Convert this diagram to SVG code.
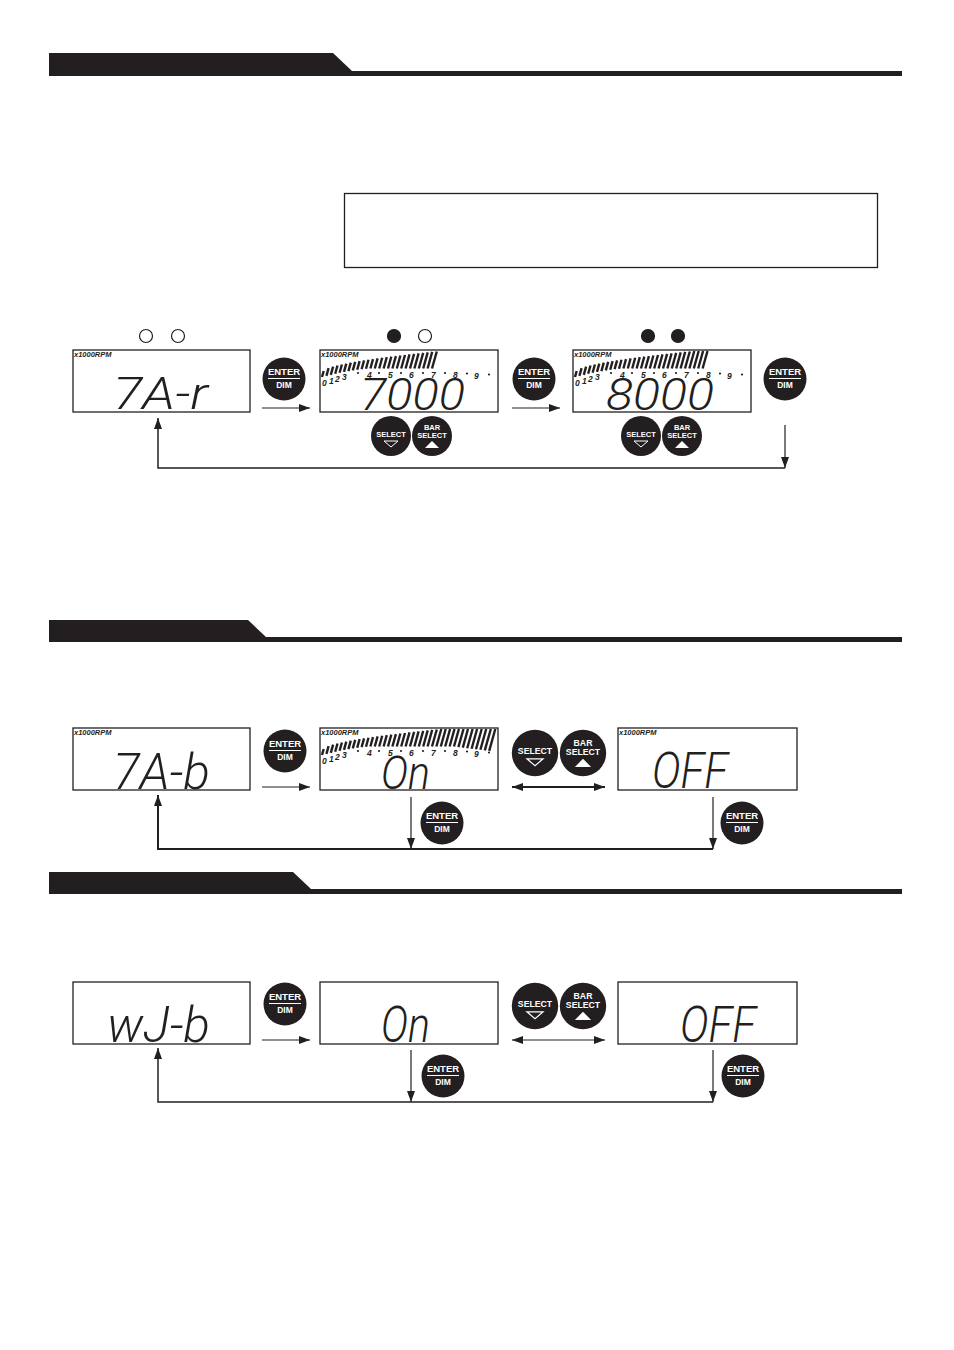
<svg xmlns="http://www.w3.org/2000/svg" xmlns:xlink="http://www.w3.org/1999/xlink" width="954" height="1350" viewBox="0 0 954 1350">
<style>
.hdr{fill:#231f20}
.lcd{fill:#fff;stroke:#231f20;stroke-width:1.3}
.rpm{font-family:"Liberation Sans",Arial,sans-serif;font-size:7.5px;font-weight:bold;font-style:italic;fill:#231f20}
.seg{font-family:Roboto,"Open Sans","DejaVu Sans",sans-serif;font-weight:300;font-style:italic;fill:#231f20}
.num{font-family:"Liberation Sans",Arial,sans-serif;font-size:8.5px;font-style:italic;font-weight:bold;fill:#231f20}
.btn{fill:#231f20}
.bt{font-family:"Liberation Sans",Arial,sans-serif;font-weight:bold;fill:#fff;text-anchor:middle}
.bar{stroke:#231f20;stroke-width:2.4;stroke-linecap:butt}
.ln{fill:none;stroke:#231f20}
.led{stroke:#231f20;stroke-width:1.2}
</style>
<defs>
<marker id="ah" markerUnits="userSpaceOnUse" markerWidth="12" markerHeight="9" refX="11" refY="4" orient="auto-start-reverse">
<path d="M0,0 L11,4 L0,8 z" fill="#231f20"/>
</marker>
<g id="barsA" class="bar">
<line x1="2" y1="27" x2="3.7" y2="21"/>
<line x1="6.4" y1="25.9" x2="8.6" y2="18.2"/>
<line x1="10.8" y1="24.8" x2="13.1" y2="16.7"/>
<line x1="15.2" y1="23.8" x2="17.5" y2="15.5"/>
<line x1="19.6" y1="22.8" x2="21.9" y2="14.5"/>
<line x1="24" y1="21.9" x2="26.3" y2="13.6"/>
<line x1="28.4" y1="21.1" x2="30.8" y2="12.7"/>
<line x1="32.8" y1="20.4" x2="35.2" y2="11.9"/>
<line x1="37.2" y1="19.7" x2="39.6" y2="11.1"/>
<line x1="41.6" y1="19.2" x2="44.1" y2="10.4"/>
<line x1="46" y1="18.7" x2="48.5" y2="9.7"/>
<line x1="50.4" y1="18.5" x2="53" y2="9.1"/>
<line x1="54.8" y1="18.5" x2="57.6" y2="8.4"/>
<line x1="59.2" y1="18.5" x2="62.2" y2="7.8"/>
<line x1="63.6" y1="18.5" x2="66.8" y2="7.2"/>
<line x1="68" y1="18.5" x2="71.3" y2="6.6"/>
<line x1="72.4" y1="18.5" x2="75.9" y2="6.1"/>
<line x1="76.8" y1="18.5" x2="80.4" y2="5.5"/>
<line x1="81.2" y1="18.5" x2="85" y2="5"/>
<line x1="85.6" y1="18.5" x2="89.5" y2="4.4"/>
<line x1="90" y1="18.5" x2="94.1" y2="3.9"/>
<line x1="94.4" y1="18.5" x2="98.6" y2="3.4"/>
<line x1="98.8" y1="18.5" x2="103.2" y2="2.9"/>
<line x1="103.2" y1="18.5" x2="107.7" y2="2.4"/>
<line x1="107.6" y1="18.5" x2="112.2" y2="1.9"/>
<line x1="112" y1="18.5" x2="116.8" y2="1.5"/>
</g>
<g id="barsB" class="bar">
<line x1="116.4" y1="18.5" x2="121.3" y2="1"/>
<line x1="120.8" y1="18.5" x2="125.7" y2="1"/>
<line x1="125.2" y1="18.5" x2="130.1" y2="1"/>
<line x1="129.6" y1="18.5" x2="134.5" y2="1"/>
</g>
<g id="barsC" class="bar">
<line x1="134" y1="18.5" x2="138.9" y2="1"/>
<line x1="138.4" y1="19.1" x2="143.5" y2="1"/>
<line x1="142.8" y1="19.6" x2="148" y2="1"/>
<line x1="147.2" y1="20.2" x2="152.6" y2="1"/>
<line x1="151.6" y1="20.7" x2="157.1" y2="1"/>
<line x1="156" y1="21.3" x2="161.7" y2="1"/>
<line x1="160.4" y1="21.8" x2="166.2" y2="1"/>
<line x1="164.8" y1="22.4" x2="170.8" y2="1"/>
<line x1="169.2" y1="22.9" x2="175.3" y2="1"/>
</g>
<g id="dots" fill="#231f20">
<circle cx="38" cy="23" r="1.1"/><circle cx="59" cy="23" r="1.1"/><circle cx="81" cy="23" r="1.1"/><circle cx="103" cy="23" r="1.1"/><circle cx="125" cy="23" r="1.1"/><circle cx="147" cy="23.5" r="1.1"/><circle cx="169" cy="24.5" r="1.1"/>
</g>
</defs>

<!-- Section headers -->
<g id="header1"><path class="hdr" d="M49,53 H333 L352,71 H902 V76 H49 Z"/></g>
<g id="header2"><path class="hdr" d="M49,620 H248 L266,637 H902 V642 H49 Z"/></g>
<g id="header3"><path class="hdr" d="M49,872 H293 L311,889 H902 V894 H49 Z"/></g>

<g id="notebox"><rect x="344.5" y="193.5" width="533" height="74" fill="none" stroke="#231f20" stroke-width="1.3"/></g>

<!-- Row 1 indicator lights -->
<g id="leds1"><circle class="led" cx="146" cy="336" r="6.5" fill="#fff"/><circle class="led" cx="178" cy="336" r="6.5" fill="#fff"/></g>
<g id="leds2"><circle class="led" cx="394" cy="336" r="6.5" fill="#231f20"/><circle class="led" cx="425" cy="336" r="6.5" fill="#fff"/></g>
<g id="leds3"><circle class="led" cx="648" cy="336" r="6.5" fill="#231f20"/><circle class="led" cx="678" cy="336" r="6.5" fill="#231f20"/></g>

<!-- Row 1 LCDs -->
<g id="lcd1a">
<rect class="lcd" x="73" y="350" width="177" height="62"/>
<text class="rpm" x="74" y="357">x1000RPM</text>
<text class="seg" x="113" y="409" font-size="44" textLength="95" lengthAdjust="spacingAndGlyphs">7A-r</text>
</g>
<g id="lcd1b">
<rect class="lcd" x="320" y="350" width="178" height="62"/>
<g transform="translate(320,350)">
<use xlink:href="#barsA"/>
<use xlink:href="#dots"/>
<text class="num" x="2" y="36">0</text><text class="num" x="9" y="34">1</text><text class="num" x="15" y="32">2</text><text class="num" x="22" y="30">3</text>
<text class="num" x="47" y="28">4</text><text class="num" x="68" y="28">5</text><text class="num" x="89" y="28">6</text><text class="num" x="111" y="28">7</text><text class="num" x="133" y="28">8</text><text class="num" x="154" y="28.5">9</text>
</g>
<text class="rpm" x="321" y="357">x1000RPM</text>
<text class="seg" x="360" y="410" font-size="44" textLength="105" lengthAdjust="spacingAndGlyphs">7000</text>
</g>
<g id="lcd1c">
<rect class="lcd" x="573" y="350" width="178" height="62"/>
<g transform="translate(573,350)">
<use xlink:href="#barsA"/><use xlink:href="#barsB"/>
<use xlink:href="#dots"/>
<text class="num" x="2" y="36">0</text><text class="num" x="9" y="34">1</text><text class="num" x="15" y="32">2</text><text class="num" x="22" y="30">3</text>
<text class="num" x="47" y="28">4</text><text class="num" x="68" y="28">5</text><text class="num" x="89" y="28">6</text><text class="num" x="111" y="28">7</text><text class="num" x="133" y="28">8</text><text class="num" x="154" y="28.5">9</text>
</g>
<text class="rpm" x="574" y="357">x1000RPM</text>
<text class="seg" x="606" y="410" font-size="44" textLength="108" lengthAdjust="spacingAndGlyphs">8000</text>
</g>

<!-- Row 1 buttons -->
<g id="enter1a"><circle class="btn" cx="284" cy="379" r="21.5"/><text class="bt" x="284" y="375" font-size="9.5">ENTER</text><line x1="268" y1="378.5" x2="300" y2="378.5" stroke="#fff" stroke-width="1"/><text class="bt" x="284" y="388" font-size="8.5">DIM</text></g>
<g id="enter1b"><circle class="btn" cx="534" cy="379" r="21.5"/><text class="bt" x="534" y="375" font-size="9.5">ENTER</text><line x1="518" y1="378.5" x2="550" y2="378.5" stroke="#fff" stroke-width="1"/><text class="bt" x="534" y="388" font-size="8.5">DIM</text></g>
<g id="enter1c"><circle class="btn" cx="785" cy="379" r="21.5"/><text class="bt" x="785" y="375" font-size="9.5">ENTER</text><line x1="769" y1="378.5" x2="801" y2="378.5" stroke="#fff" stroke-width="1"/><text class="bt" x="785" y="388" font-size="8.5">DIM</text></g>
<g id="select1b" transform="translate(391,436)"><circle class="btn" r="20"/><text class="bt" y="1" font-size="7.5">SELECT</text><path d="M-7,5 H7 L0,11 Z" fill="none" stroke="#fff" stroke-width="1"/></g>
<g id="barselect1b" transform="translate(432,436)"><circle class="btn" r="20"/><text class="bt" y="-6" font-size="7.5">BAR</text><text class="bt" y="2" font-size="7.5">SELECT</text><path d="M-7,12 H7 L0,5 Z" fill="#fff"/></g>
<g id="select1c" transform="translate(641,436)"><circle class="btn" r="20"/><text class="bt" y="1" font-size="7.5">SELECT</text><path d="M-7,5 H7 L0,11 Z" fill="none" stroke="#fff" stroke-width="1"/></g>
<g id="barselect1c" transform="translate(682,436)"><circle class="btn" r="20"/><text class="bt" y="-6" font-size="7.5">BAR</text><text class="bt" y="2" font-size="7.5">SELECT</text><path d="M-7,12 H7 L0,5 Z" fill="#fff"/></g>

<!-- Section 2 -->
<g id="lcd2a">
<rect class="lcd" x="73" y="728" width="177" height="62"/>
<text class="rpm" x="74" y="735">x1000RPM</text>
<text class="seg" x="113" y="789" font-size="49" textLength="97" lengthAdjust="spacingAndGlyphs">7A-b</text>
</g>
<g id="lcd2b">
<rect class="lcd" x="320" y="728" width="178" height="62"/>
<g transform="translate(320,728)">
<use xlink:href="#barsA"/><use xlink:href="#barsB"/><use xlink:href="#barsC"/>
<use xlink:href="#dots"/>
<text class="num" x="2" y="36">0</text><text class="num" x="9" y="34">1</text><text class="num" x="15" y="32">2</text><text class="num" x="22" y="30">3</text>
<text class="num" x="47" y="28">4</text><text class="num" x="68" y="28">5</text><text class="num" x="89" y="28">6</text><text class="num" x="111" y="28">7</text><text class="num" x="133" y="28">8</text><text class="num" x="154" y="28.5">9</text>
</g>
<text class="rpm" x="321" y="735">x1000RPM</text>
<text class="seg" x="381" y="789" font-size="46" textLength="49" lengthAdjust="spacingAndGlyphs">On</text>
</g>
<g id="lcd2c">
<rect class="lcd" x="618" y="728" width="179" height="62"/>
<text class="rpm" x="619" y="735">x1000RPM</text>
<text class="seg" x="652" y="788" font-size="49" textLength="76" lengthAdjust="spacingAndGlyphs">OFF</text>
</g>
<g id="enter2a"><circle class="btn" cx="285" cy="751" r="21.5"/><text class="bt" x="285" y="747" font-size="9.5">ENTER</text><line x1="269" y1="750.5" x2="301" y2="750.5" stroke="#fff" stroke-width="1"/><text class="bt" x="285" y="760" font-size="8.5">DIM</text></g>
<g id="select2" transform="translate(535,753) scale(1.16)"><circle class="btn" r="20"/><text class="bt" y="1" font-size="7.5">SELECT</text><path d="M-7,5 H7 L0,11 Z" fill="none" stroke="#fff" stroke-width="1"/></g>
<g id="barselect2" transform="translate(583,753) scale(1.16)"><circle class="btn" r="20"/><text class="bt" y="-6" font-size="7.5">BAR</text><text class="bt" y="2" font-size="7.5">SELECT</text><path d="M-7,12 H7 L0,5 Z" fill="#fff"/></g>
<g id="enter2b"><circle class="btn" cx="442" cy="823" r="21.5"/><text class="bt" x="442" y="819" font-size="9.5">ENTER</text><line x1="426" y1="822.5" x2="458" y2="822.5" stroke="#fff" stroke-width="1"/><text class="bt" x="442" y="832" font-size="8.5">DIM</text></g>
<g id="enter2c"><circle class="btn" cx="742" cy="823" r="21.5"/><text class="bt" x="742" y="819" font-size="9.5">ENTER</text><line x1="726" y1="822.5" x2="758" y2="822.5" stroke="#fff" stroke-width="1"/><text class="bt" x="742" y="832" font-size="8.5">DIM</text></g>

<!-- Section 3 -->
<g id="lcd3a">
<rect class="lcd" x="73" y="982" width="177" height="62"/>
<text class="seg" x="107" y="1042" font-size="49" textLength="103" lengthAdjust="spacingAndGlyphs">wJ-b</text>
</g>
<g id="lcd3b">
<rect class="lcd" x="320" y="982" width="178" height="62"/>
<text class="seg" x="381" y="1042" font-size="49" textLength="49" lengthAdjust="spacingAndGlyphs">On</text>
</g>
<g id="lcd3c">
<rect class="lcd" x="618" y="982" width="179" height="62"/>
<text class="seg" x="680" y="1042" font-size="49" textLength="76" lengthAdjust="spacingAndGlyphs">OFF</text>
</g>
<g id="enter3a"><circle class="btn" cx="285" cy="1004" r="21.5"/><text class="bt" x="285" y="1000" font-size="9.5">ENTER</text><line x1="269" y1="1003.5" x2="301" y2="1003.5" stroke="#fff" stroke-width="1"/><text class="bt" x="285" y="1013" font-size="8.5">DIM</text></g>
<g id="select3" transform="translate(535,1006) scale(1.16)"><circle class="btn" r="20"/><text class="bt" y="1" font-size="7.5">SELECT</text><path d="M-7,5 H7 L0,11 Z" fill="none" stroke="#fff" stroke-width="1"/></g>
<g id="barselect3" transform="translate(583,1006) scale(1.16)"><circle class="btn" r="20"/><text class="bt" y="-6" font-size="7.5">BAR</text><text class="bt" y="2" font-size="7.5">SELECT</text><path d="M-7,12 H7 L0,5 Z" fill="#fff"/></g>
<g id="enter3b"><circle class="btn" cx="443" cy="1076" r="21.5"/><text class="bt" x="443" y="1072" font-size="9.5">ENTER</text><line x1="427" y1="1075.5" x2="459" y2="1075.5" stroke="#fff" stroke-width="1"/><text class="bt" x="443" y="1085" font-size="8.5">DIM</text></g>
<g id="enter3c"><circle class="btn" cx="743" cy="1076" r="21.5"/><text class="bt" x="743" y="1072" font-size="9.5">ENTER</text><line x1="727" y1="1075.5" x2="759" y2="1075.5" stroke="#fff" stroke-width="1"/><text class="bt" x="743" y="1085" font-size="8.5">DIM</text></g>

<!-- Connectors -->
<g id="connectors">
<path class="ln" stroke-width="1.2" d="M262,408 H310" marker-end="url(#ah)"/>
<path class="ln" stroke-width="1.2" d="M512,408 H560" marker-end="url(#ah)"/>
<path class="ln" stroke-width="1.2" d="M785,425 V468" marker-end="url(#ah)"/>
<path class="ln" stroke-width="1.5" d="M785,468 H158 V418" marker-end="url(#ah)"/>

<path class="ln" stroke-width="1.2" d="M262,787 H310" marker-end="url(#ah)"/>
<path class="ln" stroke-width="1.8" d="M512,787 H605" marker-start="url(#ah)" marker-end="url(#ah)"/>
<path class="ln" stroke-width="1.2" d="M411,797 V849" marker-end="url(#ah)"/>
<path class="ln" stroke-width="1.2" d="M713,797 V849" marker-end="url(#ah)"/>
<path class="ln" stroke-width="2" d="M713,849 H158 V795" marker-end="url(#ah)"/>

<path class="ln" stroke-width="1.2" d="M262,1040 H310" marker-end="url(#ah)"/>
<path class="ln" stroke-width="1.2" d="M512,1040 H605" marker-start="url(#ah)" marker-end="url(#ah)"/>
<path class="ln" stroke-width="1.2" d="M411,1050 V1102" marker-end="url(#ah)"/>
<path class="ln" stroke-width="1.2" d="M713,1050 V1102" marker-end="url(#ah)"/>
<path class="ln" stroke-width="1.5" d="M713,1102 H158 V1048" marker-end="url(#ah)"/>
</g>
</svg>
